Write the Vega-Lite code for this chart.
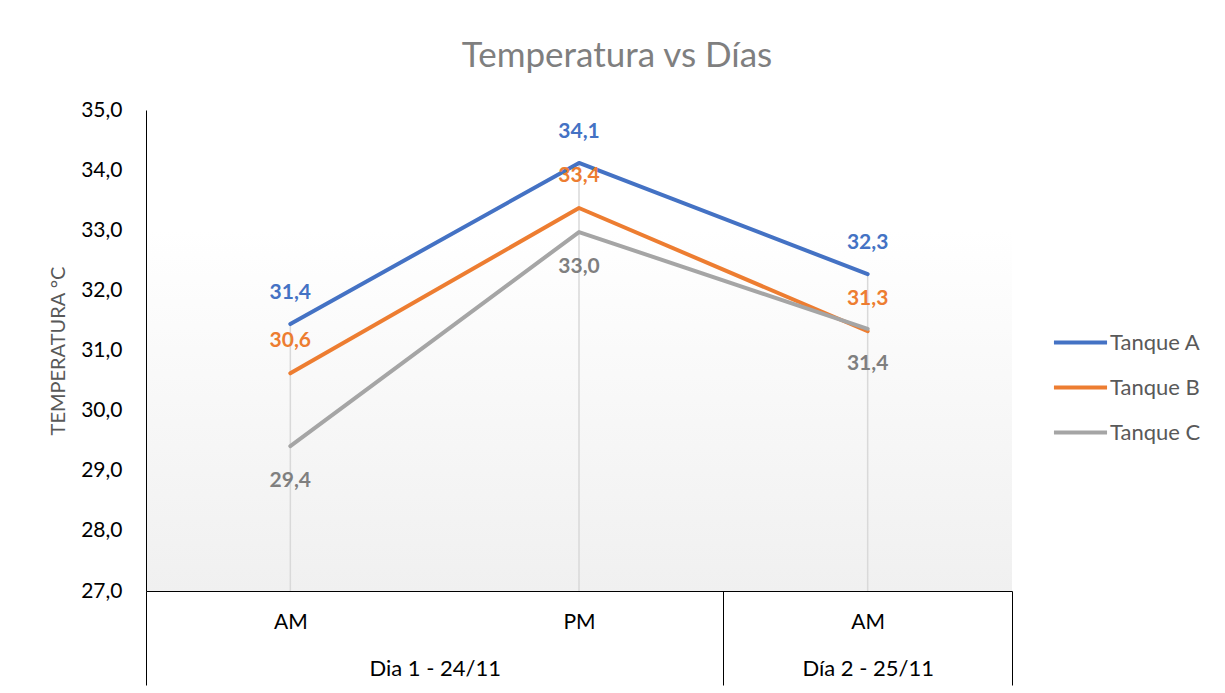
{
  "$schema": "https://vega.github.io/schema/vega-lite/v6.json",
  "width": 866,
  "height": 481,
  "autosize": {"type": "none"},
  "padding": {"left": 146, "top": 110, "right": 213, "bottom": 102},
  "background": "white",
  "config": {
    "locale": {"number": {"decimal": ",", "thousands": ".", "grouping": [3], "currency": ["", " €"]}},
    "font": "Lato",
    "view": {
      "stroke": null,
      "fill": {"gradient": "linear", "x1": 0, "y1": 0, "x2": 0, "y2": 1,
        "stops": [{"offset": 0, "color": "#ffffff"}, {"offset": 0.25, "color": "#ffffff"}, {"offset": 1, "color": "#f0f0f0"}]}
    }
  },
  "title": {
    "text": "Temperatura vs Días",
    "fontSize": 35,
    "fontWeight": "normal",
    "color": "#7f7f7f",
    "anchor": "middle",
    "dx": 38,
    "offset": 25
  },
  "data": {
    "values": [
      {"tanque": "Tanque A", "slot": 0, "value": 31.44},
      {"tanque": "Tanque A", "slot": 1, "value": 34.12},
      {"tanque": "Tanque A", "slot": 2, "value": 32.27},
      {"tanque": "Tanque B", "slot": 0, "value": 30.62},
      {"tanque": "Tanque B", "slot": 1, "value": 33.37},
      {"tanque": "Tanque B", "slot": 2, "value": 31.32},
      {"tanque": "Tanque C", "slot": 0, "value": 29.41},
      {"tanque": "Tanque C", "slot": 1, "value": 32.97},
      {"tanque": "Tanque C", "slot": 2, "value": 31.36}
    ]
  },
  "layer": [
    {
      "transform": [{"aggregate": [{"op": "max", "field": "value", "as": "top"}], "groupby": ["slot"]}],
      "mark": {"type": "rule", "color": "#d9d9d9", "strokeWidth": 1.5},
      "encoding": {
        "x": {"field": "slot", "type": "quantitative", "scale": {"domain": [-0.5, 2.5], "nice": false, "zero": false},
          "axis": {"orient": "bottom", "values": [-0.5, 1.5, 2.5], "labels": false, "domain": false, "ticks": true, "tickSize": 94, "tickColor": "black", "tickWidth": 1, "grid": false, "title": null}},
        "y": {"field": "top", "type": "quantitative", "scale": {"domain": [27, 35], "nice": false, "zero": false}, "title": "TEMPERATURA °C",
          "axis": {"values": [27, 28, 29, 30, 31, 32, 33, 34, 35], "format": ".1f", "grid": false, "ticks": false, "domainColor": "black", "domainWidth": 1, "labelFontSize": 21, "labelColor": "black", "labelPadding": 24, "titleFontSize": 20, "titleFontWeight": "normal", "titleColor": "#595959", "titlePadding": 12}},
        "y2": {"datum": 27}
      }
    },
    {
      "mark": {"type": "line", "strokeWidth": 4, "strokeCap": "round", "strokeJoin": "round"},
      "encoding": {
        "x": {"field": "slot", "type": "quantitative", "scale": {"domain": [-0.5, 2.5], "nice": false, "zero": false},
          "axis": {"orient": "bottom", "values": [0, 1, 2], "labelExpr": "datum.value == 1 ? 'PM' : 'AM'", "ticks": false, "domain": true, "domainColor": "black", "domainWidth": 1, "labelFontSize": 21, "labelColor": "black", "labelPadding": 20, "grid": false, "title": null, "labelFlush": false}},
        "y": {"field": "value", "type": "quantitative", "scale": {"domain": [27, 35], "nice": false, "zero": false}, "title": "TEMPERATURA °C",
          "axis": {"values": [27, 28, 29, 30, 31, 32, 33, 34, 35], "format": ".1f", "grid": false, "ticks": false, "domainColor": "black", "domainWidth": 1, "labelFontSize": 21, "labelColor": "black", "labelPadding": 24, "titleFontSize": 20, "titleFontWeight": "normal", "titleColor": "#595959", "titlePadding": 12}},
        "color": {"field": "tanque", "type": "nominal",
          "scale": {"domain": ["Tanque A", "Tanque B", "Tanque C"], "range": ["#4472C4", "#ED7D31", "#A5A5A5"]},
          "legend": {"orient": "none", "legendX": 910, "legendY": 208, "title": null, "padding": 0,
            "symbolType": "M-1.18,0H1.18", "symbolSize": 2025, "symbolStrokeWidth": 4,
            "labelFontSize": 22, "labelColor": "#595959", "labelOffset": 5, "rowPadding": 9}},
        "order": {"field": "slot"}
      }
    },
    {
      "transform": [{"filter": "datum.tanque == 'Tanque A'"}],
      "mark": {"type": "text", "dy": -31, "fontSize": 21, "fontWeight": "bold", "color": "#4472C4"},
      "encoding": {
        "x": {"field": "slot", "type": "quantitative", "scale": {"domain": [-0.5, 2.5], "nice": false, "zero": false},
          "axis": {"orient": "bottom", "values": [0.5, 2], "labelExpr": "datum.value == 2 ? 'Día 2 - 25/11' : 'Dia 1 - 24/11'", "ticks": false, "domain": false, "labelPadding": 67, "labelFontSize": 22, "labelColor": "black", "grid": false, "title": null, "labelOverlap": false, "labelBound": false, "labelFlush": false}},
        "y": {"field": "value", "type": "quantitative", "scale": {"domain": [27, 35], "nice": false, "zero": false}, "title": "TEMPERATURA °C",
          "axis": {"values": [27, 28, 29, 30, 31, 32, 33, 34, 35], "format": ".1f", "grid": false, "ticks": false, "domainColor": "black", "domainWidth": 1, "labelFontSize": 21, "labelColor": "black", "labelPadding": 24, "titleFontSize": 20, "titleFontWeight": "normal", "titleColor": "#595959", "titlePadding": 12}},
        "text": {"field": "value", "type": "quantitative", "format": ".1f"}
      }
    },
    {
      "transform": [{"filter": "datum.tanque == 'Tanque B'"}],
      "mark": {"type": "text", "dy": -32, "fontSize": 21, "fontWeight": "bold", "color": "#ED7D31"},
      "encoding": {
        "x": {"field": "slot", "type": "quantitative", "scale": {"domain": [-0.5, 2.5], "nice": false, "zero": false}, "axis": null},
        "y": {"field": "value", "type": "quantitative", "scale": {"domain": [27, 35], "nice": false, "zero": false}, "title": "TEMPERATURA °C",
          "axis": {"values": [27, 28, 29, 30, 31, 32, 33, 34, 35], "format": ".1f", "grid": false, "ticks": false, "domainColor": "black", "domainWidth": 1, "labelFontSize": 21, "labelColor": "black", "labelPadding": 24, "titleFontSize": 20, "titleFontWeight": "normal", "titleColor": "#595959", "titlePadding": 12}},
        "text": {"field": "value", "type": "quantitative", "format": ".1f"}
      }
    },
    {
      "transform": [{"filter": "datum.tanque == 'Tanque C'"}],
      "mark": {"type": "text", "dy": 35, "fontSize": 21, "fontWeight": "bold", "color": "#7f7f7f"},
      "encoding": {
        "x": {"field": "slot", "type": "quantitative", "scale": {"domain": [-0.5, 2.5], "nice": false, "zero": false}, "axis": null},
        "y": {"field": "value", "type": "quantitative", "scale": {"domain": [27, 35], "nice": false, "zero": false}, "title": "TEMPERATURA °C",
          "axis": {"values": [27, 28, 29, 30, 31, 32, 33, 34, 35], "format": ".1f", "grid": false, "ticks": false, "domainColor": "black", "domainWidth": 1, "labelFontSize": 21, "labelColor": "black", "labelPadding": 24, "titleFontSize": 20, "titleFontWeight": "normal", "titleColor": "#595959", "titlePadding": 12}},
        "text": {"field": "value", "type": "quantitative", "format": ".1f"}
      }
    }
  ],
  "resolve": {"axis": {"x": "independent"}}
}
